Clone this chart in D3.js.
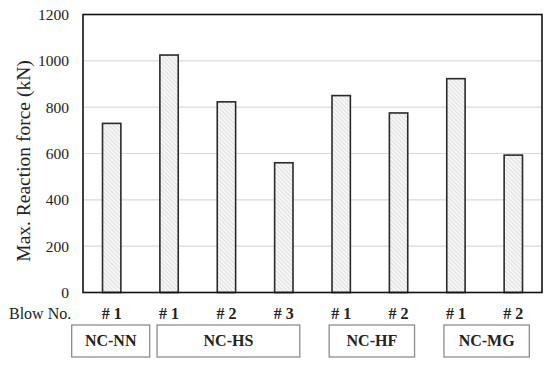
<!DOCTYPE html>
<html lang="en">
<head>
<meta charset="UTF-8">
<title>Max. Reaction force</title>
<script src="https://d3js.org/d3.v7.min.js"></script>
<style>
  body { margin: 0; background: #fff; }
</style>
</head>
<body>
<script>
    // data
    var blowLabels = ["# 1", "# 1", "# 2", "# 3", "# 1", "# 2", "# 1", "# 2"];
    var forces = [730, 1025, 823, 560, 850, 775, 923, 593];
    var groupNames = ["NC-NN", "NC-HS", "NC-HF", "NC-MG"];
    var groupStart = [0, 1, 4, 6];
    var groupEnd = [0, 3, 5, 7];
    var yTicks = [0, 200, 400, 600, 800, 1000, 1200];

    var W = 550, H = 367;
    var m = {left: 83, right: 8, top: 14.5, bottom: 74.5};
    var serif = "'Liberation Serif'";

    var svg = d3.select("body").append("svg")
        .attr("width", W)
        .attr("height", H);

    var idx = d3.range(forces.length);
    var xScale = d3.scaleBand().domain(idx).range([m.left, W - m.right]).paddingInner(0.68).paddingOuter(0.34);
    var yScale = d3.scaleLinear().domain([0, 1200]).range([H - m.bottom, m.top]);

    var defs = svg.append("defs");
    var pat = defs.append("pattern")
        .attr("id", "hatch")
        .attr("patternUnits", "userSpaceOnUse")
        .attr("width", 3).attr("height", 3)
        .attr("patternTransform", "rotate(-45)");
    pat.append("rect").attr("width", 3).attr("height", 3).attr("fill", "#f7f7f7");
    pat.append("line").attr("x1", 0).attr("y1", 0).attr("x2", 0).attr("y2", 3)
        .attr("stroke", "#c8c8c8").attr("stroke-width", 1);

    // grid
    svg.append("g").selectAll("line").data(yTicks.slice(1, -1)).enter().append("line")
        .attr("x1", m.left).attr("x2", W - m.right)
        .attr("y1", function (d) { return yScale(d); })
        .attr("y2", function (d) { return yScale(d); })
        .attr("stroke", "#d9d9d9").attr("stroke-width", 1.2);

    // y axis
    var yAxis = d3.axisLeft(yScale).tickValues(yTicks).tickFormat(d3.format("d")).tickSize(0).tickPadding(14);
    var ga = svg.append("g").attr("transform", "translate(" + m.left + ",0)").call(yAxis);
    ga.select(".domain").remove();
    ga.selectAll("text")
        .style("font-family", serif).style("font-size", "15.5px").attr("fill", "#222");

    svg.append("text")
        .attr("transform", "translate(23,161) rotate(-90)")
        .attr("text-anchor", "middle")
        .attr("dy", "0.35em")
        .attr("fill", "#222")
        .style("font-family", serif).style("font-size", "19.5px")
        .text("Max. Reaction force (kN)");

    // bars
    svg.append("g").selectAll("rect").data(forces).enter().append("rect")
        .attr("x", function (d, i) { return xScale(i); })
        .attr("y", function (d) { return yScale(d); })
        .attr("width", xScale.bandwidth())
        .attr("height", function (d) { return yScale(0) - yScale(d); })
        .attr("fill", "url(#hatch)")
        .attr("stroke", "#2a2a2a").attr("stroke-width", 1.6);

    // frame
    svg.append("rect")
        .attr("x", m.left).attr("y", m.top)
        .attr("width", W - m.right - m.left).attr("height", H - m.bottom - m.top)
        .attr("fill", "none").attr("stroke", "#111").attr("stroke-width", 1.6);

    // blow labels
    function cx(i) { return xScale(i) + xScale.bandwidth() / 2; }
    svg.append("text").attr("x", 9).attr("y", 319).attr("fill", "#222")
        .style("font-family", serif).style("font-size", "16px").text("Blow No.");
    svg.append("g").selectAll("text").data(blowLabels).enter().append("text")
        .attr("x", function (d, i) { return cx(i); })
        .attr("y", 319)
        .attr("text-anchor", "middle")
        .attr("fill", "#222")
        .style("font-family", serif).style("font-size", "16px").style("font-weight", "bold")
        .text(function (d) { return d; });

    // group boxes
    var gg = svg.append("g").selectAll("g").data(groupNames).enter().append("g");
    function boxL(i) {
        var a = cx(groupStart[i]) - 12, b = cx(groupEnd[i]) + 16;
        if (b - a < 78) { var c = (cx(groupStart[i]) + cx(groupEnd[i])) / 2 - 1; return c - 39; }
        return a;
    }
    function boxR(i) {
        var a = cx(groupStart[i]) - 12, b = cx(groupEnd[i]) + 16;
        if (b - a < 78) { var c = (cx(groupStart[i]) + cx(groupEnd[i])) / 2 - 1; return c + 39; }
        return b;
    }
    gg.append("rect")
        .attr("x", function (d, i) { return boxL(i); })
        .attr("y", 325)
        .attr("width", function (d, i) { return boxR(i) - boxL(i); })
        .attr("height", 32)
        .attr("fill", "#fff").attr("stroke", "#8c8c8c").attr("stroke-width", 1.3);
    gg.append("text")
        .attr("x", function (d, i) { return (boxL(i) + boxR(i)) / 2; })
        .attr("y", 346)
        .attr("text-anchor", "middle")
        .attr("fill", "#222")
        .style("font-family", serif).style("font-size", "16px").style("font-weight", "bold")
        .text(function (d) { return d; });
</script>
</body>
</html>
